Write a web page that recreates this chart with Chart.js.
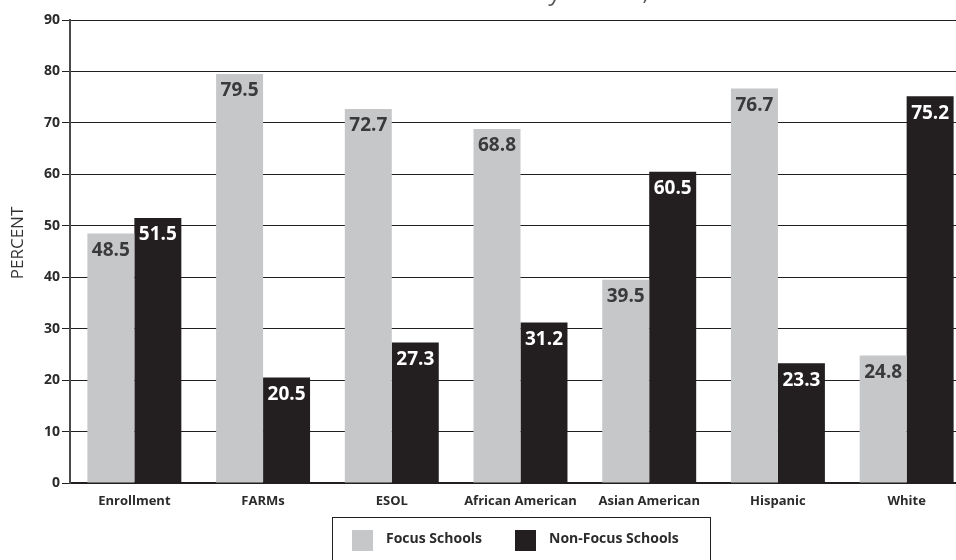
<!DOCTYPE html>
<html>
<head>
<meta charset="utf-8">
<script src="https://cdn.jsdelivr.net/npm/chart.js@4/dist/chart.umd.min.js"></script>
<style>
  html, body { margin: 0; padding: 0; background: #fff; overflow: hidden; }
  #wrap { width: 956px; height: 560px; position: relative; overflow: hidden; }
  #c { position: absolute; left: 0; top: 0; }
</style>
</head>
<body>
<div id="wrap"><canvas id="c" width="972" height="560"></canvas></div>
<script>
const categories = ['Enrollment', 'FARMs', 'ESOL', 'African American', 'Asian American', 'Hispanic', 'White'];
const focusSchools = [48.5, 79.5, 72.7, 68.8, 39.5, 76.7, 24.8];
const nonFocusSchools = [51.5, 20.5, 27.3, 31.2, 60.5, 23.3, 75.2];
const yTicks = [0, 10, 20, 30, 40, 50, 60, 70, 80, 90];
const seriesNames = ['Focus Schools', 'Non-Focus Schools'];
const titleText = 'Focus and Non-Focus Elementary Schools, 2004–05';
const yAxisTitle = 'PERCENT';

const GRAY = '#c6c7c9';
const DARK = '#231f20';
const FONT = '"Open Sans", "DejaVu Sans", sans-serif';

// Title sits above the canvas top edge; only its lowest strokes show.
const titlePlugin = {
  id: 'clippedTitle',
  afterDraw(chart) {
    const ctx = chart.ctx;
    ctx.save();
    ctx.font = 'italic 23px ' + FONT;
    ctx.fillStyle = '#555';
    ctx.textAlign = 'center';
    ctx.textBaseline = 'alphabetic';
    ctx.fillText(titleText, 484, 0);
    ctx.restore();
  }
};

// Rotated y-axis caption.
const yCaption = {
  id: 'yCaption',
  afterDraw(chart) {
    const ctx = chart.ctx;
    ctx.save();
    ctx.translate(18, 243);
    ctx.rotate(-Math.PI / 2);
    ctx.font = '17px ' + FONT;
    ctx.fillStyle = '#333';
    ctx.textAlign = 'center';
    ctx.textBaseline = 'middle';
    ctx.fillText(yAxisTitle, 0, 0);
    ctx.restore();
  }
};

// Value labels printed inside the top of each bar.
const valueLabels = {
  id: 'valueLabels',
  afterDatasetsDraw(chart) {
    const ctx = chart.ctx;
    ctx.save();
    ctx.font = 'bold 19px ' + FONT;
    ctx.textAlign = 'center';
    ctx.textBaseline = 'middle';
    chart.data.datasets.forEach((ds, di) => {
      const meta = chart.getDatasetMeta(di);
      meta.data.forEach((bar, i) => {
        ctx.fillStyle = di === 0 ? '#3a3a3c' : '#ffffff';
        ctx.fillText(ds.data[i].toFixed(1), bar.x, bar.y + 17);
      });
    });
    ctx.restore();
  }
};

// Boxed legend centred under the category labels.
const boxLegend = {
  id: 'boxLegend',
  afterDraw(chart) {
    const ctx = chart.ctx;
    ctx.save();
    ctx.strokeStyle = DARK;
    ctx.lineWidth = 1;
    ctx.strokeRect(332.5, 517.5, 378, 60);
    const items = [
      { sx: 352, tx: 386 },
      { sx: 515, tx: 549 }
    ];
    ctx.font = 'bold 14px ' + FONT;
    ctx.textBaseline = 'middle';
    ctx.textAlign = 'left';
    chart.data.datasets.forEach((ds, di) => {
      const it = items[di];
      ctx.fillStyle = ds.backgroundColor;
      ctx.fillRect(it.sx, 530, 21, 21);
      ctx.fillStyle = '#2b2b2b';
      ctx.fillText(ds.label, it.tx, 539);
    });
    ctx.restore();
  }
};

new Chart(document.getElementById('c'), {
  type: 'bar',
  data: {
    labels: categories,
    datasets: [
      { label: seriesNames[0], data: focusSchools, backgroundColor: GRAY },
      { label: seriesNames[1], data: nonFocusSchools, backgroundColor: DARK }
    ]
  },
  options: {
    responsive: false,
    animation: false,
    events: [],
    layout: { padding: { left: 0, right: 1, top: 20, bottom: 0 } },
    datasets: { bar: { categoryPercentage: 0.73, barPercentage: 1.0 } },
    plugins: {
      legend: { display: false },
      title: { display: false },
      tooltip: { enabled: false }
    },
    scales: {
      x: {
        grid: { display: false, drawTicks: false },
        border: { display: true, color: DARK, width: 2 },
        ticks: {
          padding: 10,
          color: '#2b2b2b',
          font: { family: FONT, size: 13, weight: 'bold' }
        },
        afterFit(scale) { scale.height = 77; }
      },
      y: {
        min: 0,
        max: 90,
        afterBuildTicks(scale) { scale.ticks = yTicks.map(v => ({ value: v })); },
        grid: { color: DARK, lineWidth: 1, tickLength: 8, drawTicks: true },
        border: { display: true, color: '#4a4a4a', width: 2 },
        ticks: {
          padding: 2,
          color: '#2b2b2b',
          font: { family: FONT, size: 14, weight: 'bold' }
        },
        afterFit(scale) { scale.width = 70; }
      }
    }
  },
  plugins: [titlePlugin, yCaption, valueLabels, boxLegend]
});
</script>
</body>
</html>
